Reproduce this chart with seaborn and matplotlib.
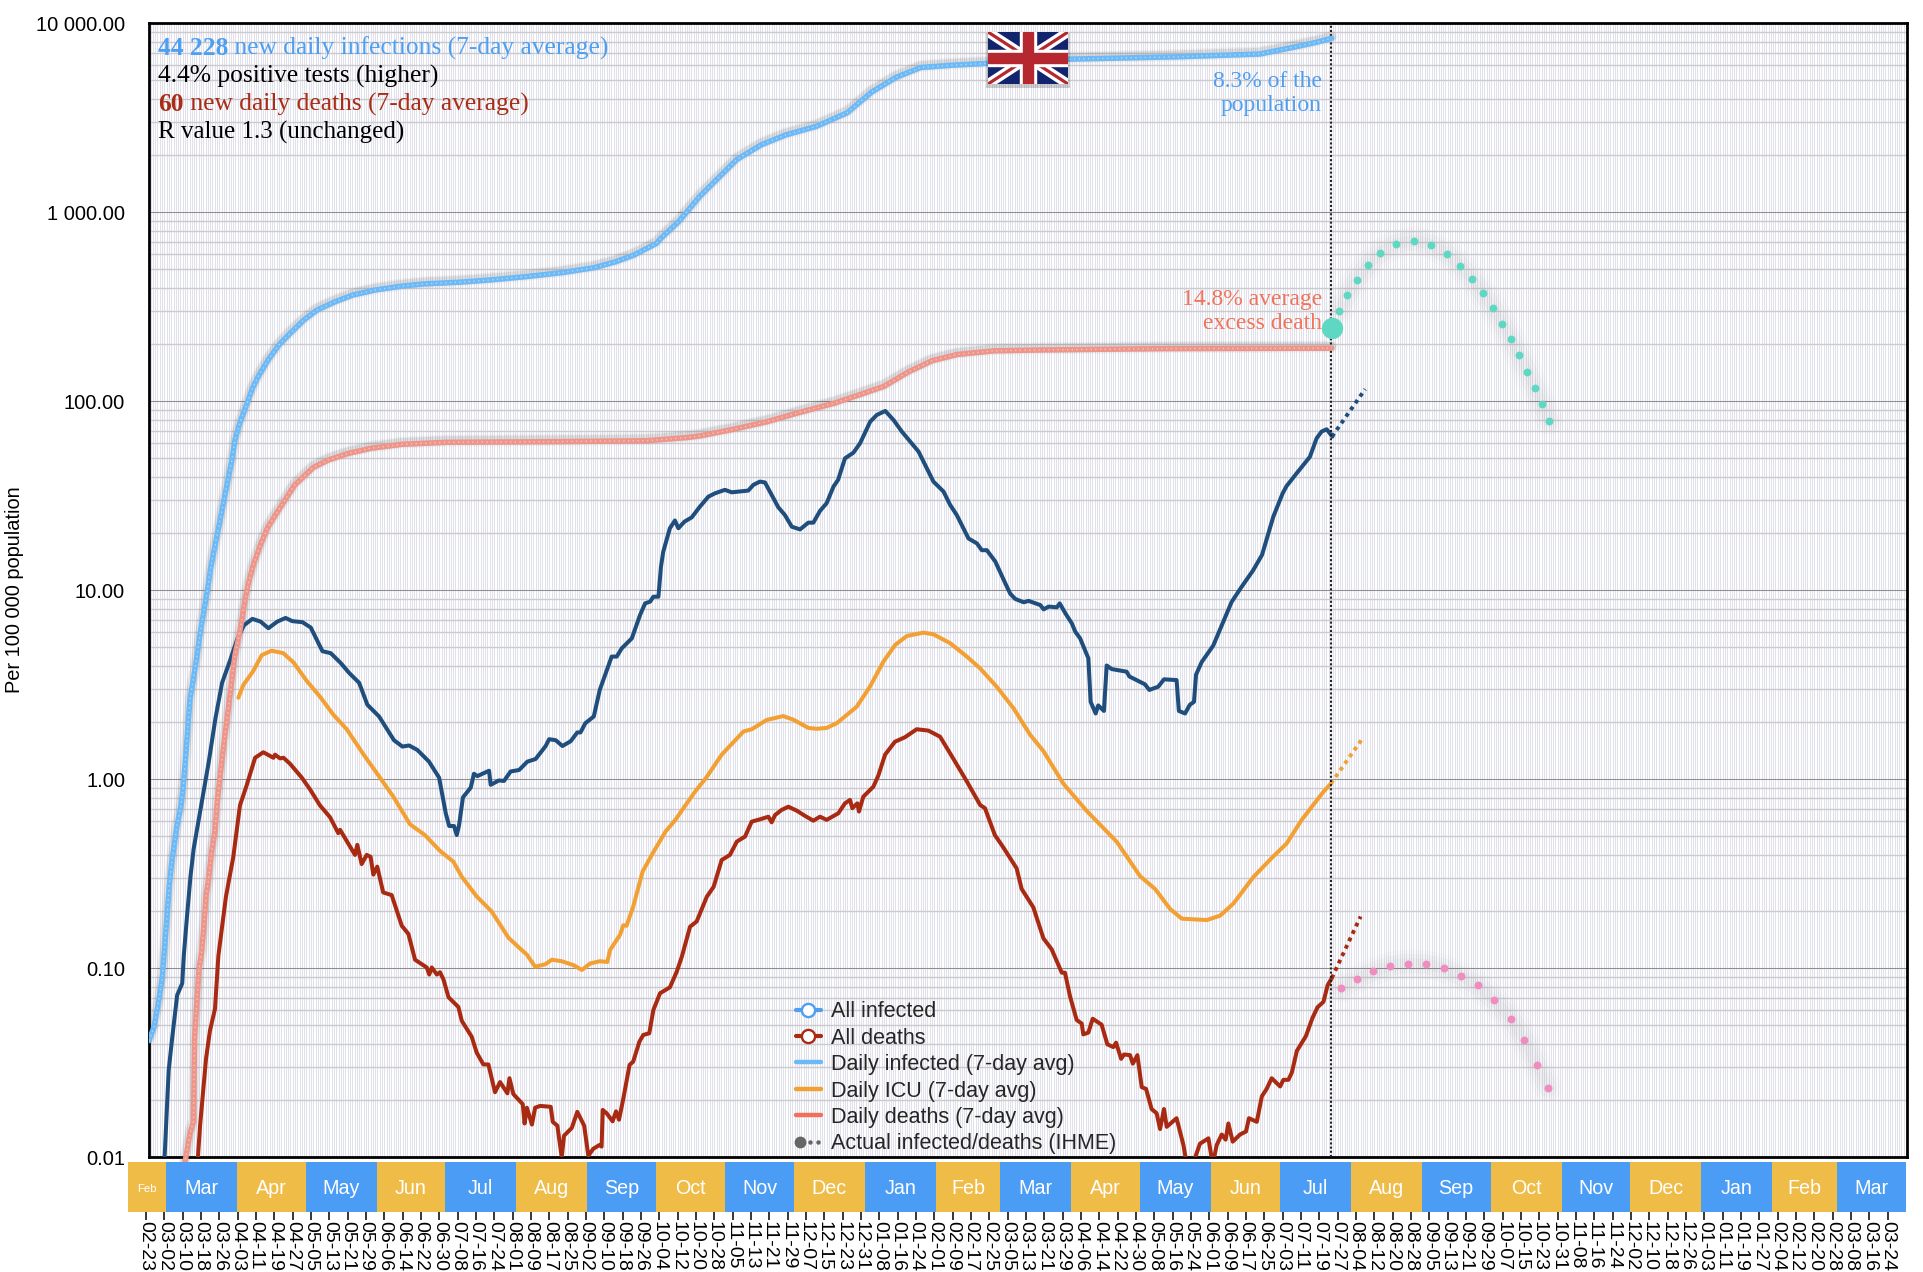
import numpy as np
import pandas as pd
import seaborn as sns
import matplotlib
matplotlib.use("Agg")
import matplotlib.pyplot as plt
import matplotlib.patheffects as pe
from matplotlib.lines import Line2D
from matplotlib.patches import Rectangle
from matplotlib.ticker import LogLocator, FixedLocator, FixedFormatter, NullFormatter
from matplotlib.legend_handler import HandlerBase

# ---------- data (x = days since 2020-02-23) ----------
START = pd.Timestamp("2020-02-23")

all_inf_day = [1.3,3.5,5.4,7.1,8.3,9.3,10.2,11.2,12.2,13.4,15.3,16.3,17.3,18.3,19.2,20.7,22.3,23.1,24.3,25.5,26.8,28.2,
               37.6,38.8,40.9,44.4,46.4,48.9,53.2,58,62.9,68.8,74.6,82.4,90.2,99.9,111.6,121.3,136.9,150.5,166,181.7,195.4,205,212.9,222.7,224.6,
               232.4,241.6,247,257.7,268.4,279,292.5,305.9,316.6,327.3,338,351.4,355,402,450,486,500.7,510,517.4]
all_inf_val = [.0414,.049,.0655,.0895,.138,.198,.278,.362,.439,.558,.728,.927,1.31,1.91,2.67,3.4,4.54,5.37,6.67,8.09,10,13.1,
               49.9,62.4,76.6,100,117,135,165,199,229,269,304,336,365,388,407,418,427,439,457,480,509,548,594,685,728,
               893,1214,1410,1900,2275,2564,2850,3360,4325,5180,5835,6000,6030,6460,6650,6880,7470,7900,8330]

all_death_day = [16.8,17.4,19.2,20.7,21.2,22.1,23.1,24.3,25.3,26.2,27.2,28.7,30.1,31.1,32.3,33.3,34.5,35.5,37,38.8,40.3,41.7,43.2,44.6,46.8,
                 50,53,57.3,64.8,72.9,79.5,88.2,98,111.6,131,179.8,218.7,236,241.7,256,271,285.4,300,311,322,332.6,343,354,370,391.5,445,517.4]
all_death_val = [.0092,.01,.0134,.0154,.0425,.0638,.0986,.1225,.171,.24,.291,.418,.532,.764,1.03,1.31,1.73,2.15,3.01,4.54,5.5,6.83,8.9,10.8,13.6,
                 17.5,21.4,26,36,44.6,48.9,53,56.4,59.2,60.7,61.2,61.9,64.3,65.6,71,78,87.5,97.5,108,120,143,164,177,185,187,190,191]

daily_inf_day = [7.6,8.2,9.9,11.4,13.6,15.8,16.5,17.9,19.4,20.8,23.8,27.4,30.3,33.2,36.9,39.8,42.7,46.4,50,53.4,57.3,60.9,63.8,68.3,71.9,77,80.6,85,88.6,93,96.6,101.7,108.2,111.9,114.8,118.4,123.5,127.9,130.8,132.3,134.4,135.6,136.6,138.3,141.7,143.1,144.6,149.7,150.4,154,156.2,159.1,162.8,166.4,170,174.4,175.9,178.8,181.7,185.3,188.2,189.6,191.7,195.4,198,
                 203.2,205.4,207.6,212,215.6,217.8,220,221.4,223.6,224.7,225.7,228.6,230.8,232.3,235,238.1,241.7,245.4,248.3,252.6,255.6,262.8,265,267.9,270.1,275.9,278.8,281.8,285.4,289,291.2,294.1,297,300,302,305,308.7,311.6,316,318.9,322.6,326.2,329.8,337.1,343.6,348,350.9,353.8,358.9,362.6,364.7,366.9,370.6,374.2,377.1,379.3,383,385.1,390.2,391.7,393.9,397.5,398.7,401.2,404,405.5,407.6,411.2,
                 412.2,414.4,415.5,418,419.2,421.4,427.9,429.1,435.9,437.8,441.7,444.2,449.7,450.7,453.4,455.5,457.3,458.2,460.7,465.7,468.7,473.7,478,483,487,490.4,491.9,496,497.7,502.1,507.9,510.8,513,515.2,517.7]
daily_inf_val = [.0085,.0105,.0289,.0425,.0721,.0832,.117,.189,.305,.429,.693,1.24,2.1,3.24,4.33,5.5,6.52,7.06,6.83,6.3,6.83,7.14,6.87,6.78,6.35,4.76,4.65,4.12,3.66,3.24,2.48,2.15,1.61,1.49,1.51,1.43,1.24,1.02,.661,.566,.566,.507,.571,.802,.904,1.07,1.04,1.11,.935,.986,.98,1.1,1.12,1.24,1.28,1.5,1.63,1.61,1.5,1.59,1.77,1.77,1.98,2.15,2.97,
                 4.46,4.46,4.93,5.57,7.41,8.53,8.71,9.25,9.25,13.3,16,21.3,23.4,21.3,23.1,24.3,27.7,31.3,32.6,34,33,33.7,36.1,37.6,37.2,27.5,25,21.7,21,22.8,22.8,26.3,28.9,35.4,38.4,49.9,53.5,60,78,84.7,88.9,79.6,69.2,54.2,37.6,33.3,28.3,25,18.8,17.7,16.3,16.3,14.2,11.4,9.6,9,8.64,8.79,8.36,7.93,8.2,8.13,8.53,7.55,6.68,6.04,5.57,4.37,
                 2.57,2.23,2.46,2.3,4,3.83,3.71,3.5,3.18,2.97,3.09,3.38,3.35,2.3,2.23,2.48,2.57,3.58,4.18,5.1,6.22,8.67,10.4,12.7,15.4,21.3,24.5,32.6,35.6,41.6,50.9,63.7,69.2,71.1,65]

icu_day = [40.3,42.5,46.8,50.5,54.8,59.9,64.3,70.1,75.9,81.7,87.6,94.8,102.1,107.9,115.2,121.7,128.3,134.1,137.8,144.3,150.8,158.2,161.8,166.2,169.8,174.2,177.1,181.4,186.5,190.2,193.8,198,201.3,202.5,206.8,208.3,209.7,212.6,216.7,221.5,226.7,231,234.5,239.6,244.7,251.2,260.7,264.3,270.8,278,282.4,289,292.6,297,301.4,310.1,315.9,321.8,326.9,332,339.2,343.6,350.9,358.2,364,371.2,378.5,385.8,391.6,400.3,410.5,423.6,433.8,440.3,446.9,452,462.9,468.7,474.5,483.2,491.9,497.7,504.3,513.7,517]
icu_val = [2.7,3.16,3.74,4.54,4.79,4.65,4.16,3.32,2.74,2.2,1.84,1.36,1.02,.81,.578,.507,.418,.367,.305,.24,.2,.145,.132,.118,.102,.105,.111,.109,.104,.098,.106,.109,.108,.125,.15,.169,.168,.212,.325,.414,.529,.61,.703,.861,1.03,1.35,1.79,1.84,2.06,2.16,2.07,1.87,1.85,1.87,1.98,2.42,3.09,4.2,5.14,5.73,5.97,5.85,5.25,4.46,3.86,3.09,2.38,1.72,1.41,.948,.68,.467,.307,.263,.206,.183,.18,.19,.22,.304,.391,.457,.61,.857,.948]

daily_death_day = [22.6,23.6,26.2,27.9,30.1,31.6,34.9,38.1,41,43.9,47.6,51.2,55.6,56.3,58.5,60,62.8,68,71.6,75.9,80.3,83.9,84.7,91.2,92.2,94.1,96.3,98,99.2,100.9,103.5,107.2,111.6,114.5,117.4,122.5,123.6,124.7,126.9,128.3,129.8,132,136.3,137.8,142.1,144.3,147.2,149.4,152.3,154.5,157.7,158.6,160.3,164.4,165.2,166.2,168.4,169.8,172,176.6,177.5,179.5,181.4,182.4,185.8,188.2,191.2,193,195.2,197.8,198.8,199.3,201,203.6,205.1,206.4,208.3,211,212.6,215.3,217,219.6,221.4,224.3,228.6,231.6,233.8,237.4,240.3,244.7,247.7,251.2,254.8,257.8,261.4,264.3,267.9,271.6,273,274.5,277.4,280.3,284,287.6,291.2,294.1,297,302.1,305,307.2,308.2,310.4,311.1,313,317.4,319.6,322.5,326.8,331.2,336.3,341.4,346.5,352.2,358.2,364,366.1,370.4,373.4,374.8,379.9,382.1,387.2,391.6,395.2,399.6,401,403.2,406.1,408.3,409,411.2,413.1,417,419.5,422.1,423.3,425.5,426.8,429.4,430.6,432.6,434.5,436.4,438.8,441,442.5,444.2,445.4,449.7,452.7,453.8,455.7,457.7,459.9,463.6,465,466.2,467.2,469.4,471.1,472.3,474.2,477.4,480,481.3,484.7,486.9,489,491.2,494.9,496.3,498.5,500,502.2,506.1,509,511.2,513.8,515.6,517.4]
daily_death_val = [.0098,.0147,.0333,.0467,.061,.117,.24,.389,.728,.927,1.3,1.39,1.3,1.35,1.29,1.3,1.21,1.02,.883,.728,.63,.519,.54,.398,.45,.356,.398,.389,.313,.345,.252,.244,.168,.152,.111,.101,.0927,.101,.0927,.0953,.0873,.0703,.0624,.0527,.0435,.0358,.031,.031,.0221,.025,.0218,.0262,.0216,.0191,.0151,.0183,.0149,.0183,.0187,.0185,.0154,.0147,.01,.013,.0143,.0174,.0147,.0102,.0111,.0116,.0114,.0178,.0171,.0155,.0175,.0158,.0205,.0308,.0321,.0409,.0444,.0453,.0602,.0738,.0793,.096,.115,.166,.177,.239,.27,.374,.398,.468,.498,.597,.614,.634,.592,.647,.689,.716,.682,.64,.604,.634,.61,.661,.746,.778,.703,.746,.675,.809,.914,1.05,1.35,1.58,1.67,1.84,1.81,1.68,1.29,.973,.731,.703,.507,.449,.423,.338,.263,.21,.144,.126,.0948,.0948,.0711,.0533,.051,.0447,.0457,.0541,.0503,.0396,.0383,.0404,.0332,.035,.0347,.0313,.0347,.0235,.023,.018,.0171,.0141,.018,.0145,.0161,.0116,.0097,.0085,.0099,.0118,.0126,.0099,.0101,.0116,.0132,.0124,.0151,.0121,.0132,.0137,.0161,.0154,.021,.023,.0262,.0237,.0257,.0257,.0281,.0366,.0437,.0546,.0622,.0665,.0813,.0887]

proj_day = [517.5, 532]
proj_inf = [65, 116]
proj_icu_day = [517, 530.9]
proj_icu = [.948, 1.65]
proj_death_day = [517.4, 530]
proj_death = [.0887, .188]

ihme_inf_day = [520.7,524.1,528.3,533.1,538.6,545.5,553.2,560.8,567.5,573.5,578.7,583.5,587.8,591.9,595.7,599.3,602.7,606.1,609.2,612.4]
ihme_inf_val = [301,365,440,526,612,682,708,675,604,522,442,373,310,258,213,175,143,118,96.4,78.7]
ihme_now_day, ihme_now_val = 517.4, 243
ihme_death_day = [521.5,528.3,535.5,543,550.7,558.7,566.2,573.7,581.2,588.1,595.6,601.5,606.9,611.7]
ihme_death_val = [.0784,.0875,.0962,.103,.106,.105,.1,.0914,.0811,.0678,.0542,.042,.0307,.0234]

today_day = 517.1
month_names = ["Feb","Mar","Apr","May","Jun","Jul","Aug","Sep","Oct","Nov","Dec","Jan"]*2 + ["Feb","Mar"]
y_ticks = [0.01,0.1,1,10,100,1000,10000]
y_labels = ["0.01","0.10","1.00","10.00","100.00","1 000.00","10 000.00"]
legend_labels = ["All infected","All deaths","Daily infected (7-day avg)","Daily ICU (7-day avg)","Daily deaths (7-day avg)","Actual infected/deaths (IHME)"]

# ---------- style ----------
C_INF, C_DEATH = "#6cb9f8", "#ef9489"
C_NAVY, C_ICU, C_RED = "#1f4e7d", "#f2a033", "#a82a12"
C_TEXT_BLUE, C_TEXT_RED, C_TEXT_SALMON = "#4f9ff0", "#a92c16", "#f0745c"
C_TEAL, C_PINK = "#5fd8c3", "#f08cc0"
C_Y, C_B = "#f0bc48", "#4a9cf5"
SERIF = "Liberation Serif"

sns.set_theme(style="white")
plt.rcParams["font.family"] = ["Liberation Sans", "DejaVu Sans"]

W, H = 1924, 1272
fig = plt.figure(figsize=(W/100, H/100), dpi=100, facecolor="white")
def box(x0, y0, x1, y1):
    return [x0/W, 1-y1/H, (x1-x0)/W, (y1-y0)/H]

PX_DAY = 2.2917
X0 = 146.0
def day_at(px):
    return (px-X0)/PX_DAY

ax = fig.add_axes(box(148.7, 23.3, 1906.8, 1157.3))
ax.set_yscale("log")
ax.set_xlim(day_at(148.7), day_at(1906.8))
ax.set_ylim(0.01, 10000)

# grid
ax.set_axisbelow(True)
ax.xaxis.set_major_locator(FixedLocator([]))
ax.xaxis.set_minor_locator(FixedLocator(np.arange(2, 769)))
ax.xaxis.set_minor_formatter(NullFormatter())
ax.yaxis.set_major_locator(FixedLocator(y_ticks))
ax.yaxis.set_major_formatter(FixedFormatter(y_labels))
ax.yaxis.set_minor_locator(LogLocator(base=10, subs=np.arange(2, 10), numticks=20))
ax.yaxis.set_minor_formatter(NullFormatter())
ax.grid(True, which="minor", axis="x", color="#e1e1ec", lw=0.75)
ax.grid(True, which="minor", axis="y", color="#cbcbcf", lw=1.0)
ax.grid(True, which="major", axis="y", color="#8e8e8e", lw=0.75)
ax.tick_params(axis="both", which="both", length=0)
ax.tick_params(axis="y", which="major", labelsize=14.5, pad=17, labelcolor="black")
ax.set_xlabel(""); ax.set_ylabel("")
for s in ax.spines.values():
    s.set_visible(True); s.set_color("black"); s.set_linewidth(2.0)

def line(x, y, **kw):
    sns.lineplot(x=x, y=y, ax=ax, estimator=None, errorbar=None, sort=False, legend=False, **kw)

def thick(x, y, color, clip=True):
    for w, a in [(8.5, .05), (6.5, .10)]:
        line(x, y, color="#333333", lw=w, alpha=a, zorder=3, clip_on=clip,
             path_effects=[pe.Stroke(linewidth=w, foreground="#333333", alpha=a, offset=(0, 1.2))])
    line(x, y, color=color, lw=3.9, zorder=5, clip_on=clip, solid_capstyle="round")
    line(x, y, color="white", lw=1.0, alpha=.45, zorder=6, clip_on=clip, dashes=(1.0, 2.4), dash_capstyle="butt")

line(daily_inf_day, daily_inf_val, color=C_NAVY, lw=2.9, zorder=4)
line(icu_day, icu_val, color=C_ICU, lw=2.9, zorder=4)
line(daily_death_day, daily_death_val, color=C_RED, lw=2.9, zorder=4)
thick(all_inf_day, all_inf_val, C_INF)
thick(all_death_day, all_death_val, C_DEATH, clip=False)

for xs, ys, c in [(proj_day, proj_inf, C_NAVY), (proj_icu_day, proj_icu, C_ICU), (proj_death_day, proj_death, C_RED)]:
    line(xs, ys, color=c, lw=2.8, zorder=4, dashes=(1.0, 1.1), dash_capstyle="butt")

# projection dots with soft grey halo
for xs, ys, c in [(ihme_inf_day, ihme_inf_val, C_TEAL), (ihme_death_day, ihme_death_val, C_PINK)]:
    for lw_, a in [(20, .02), (14, .03), (8, .03)]:
        line(xs, ys, color="#555555", lw=lw_, alpha=a, zorder=3)
    sns.scatterplot(x=xs, y=ys, ax=ax, color=c, s=32, linewidth=0, zorder=7, legend=False)
sns.scatterplot(x=[ihme_now_day], y=[ihme_now_val], ax=ax, color=C_TEAL, s=235, linewidth=0, zorder=7, legend=False)

ax.axvline(today_day, color="#222222", lw=1.5, ls=(0, (1, 1)), zorder=4)

# ---------- headline text ----------
def headline(px, py, bold, rest, color):
    t = ax.text(px/W, 1-py/H, bold, transform=fig.transFigure, family=SERIF, fontsize=18.4, weight="bold", color=color, va="center", ha="left", zorder=9)
    ax.annotate(rest, xy=(1, 0), xycoords=t, xytext=(0, 0), textcoords="offset points", family=SERIF, fontsize=18.4,
                color=color, va="bottom", ha="left", zorder=9)

headline(158, 48.5, "44 228", " new daily infections (7-day average)", C_TEXT_BLUE)
ax.text(158/W, 1-76.5/H, "4.4% positive tests (higher)", transform=fig.transFigure, family=SERIF, fontsize=18.4, color="black", va="center", zorder=9)
headline(158, 104.5, "60", " new daily deaths (7-day average)", C_TEXT_RED)
ax.text(158/W, 1-132.5/H, "R value 1.3 (unchanged)", transform=fig.transFigure, family=SERIF, fontsize=18, color="black", va="center", zorder=9)

for py, s, c in [(81.5, "8.3% of the", C_TEXT_BLUE), (105.5, "population", C_TEXT_BLUE),
                 (299.5, "14.8% average", C_TEXT_SALMON), (323.5, "excess death", C_TEXT_SALMON)]:
    ax.text(1322/W, 1-py/H, s, transform=fig.transFigure, family=SERIF, fontsize=17, color=c, ha="right", va="center", zorder=9)

fig.text(14.5/W, 1-590/H, "Per 100 000 population", rotation=90, fontsize=14.4, ha="center", va="center", color="black")

# ---------- legend ----------
class DotsHandler(HandlerBase):
    def create_artists(self, legend, orig, xd, yd, width, height, fontsize, trans):
        y = height/2 - yd
        big = Line2D([width*.18], [y], marker="o", ms=7.5, color="#666666", ls="", transform=trans)
        d1 = Line2D([width*.55], [y], marker="o", ms=2.2, color="#666666", ls="", transform=trans)
        d2 = Line2D([width*.88], [y], marker="o", ms=2.2, color="#666666", ls="", transform=trans)
        return [big, d1, d2]

proxy_dots = Line2D([], [], color="#666666")
handles = [
    Line2D([], [], color=C_TEXT_BLUE, lw=3, marker="o", ms=9.5, mfc="white", mec=C_TEXT_BLUE, mew=1.7),
    Line2D([], [], color=C_RED, lw=3, marker="o", ms=9.5, mfc="white", mec=C_RED, mew=1.7),
    Line2D([], [], color=C_INF, lw=3.2),
    Line2D([], [], color=C_ICU, lw=3.2),
    Line2D([], [], color="#f0705a", lw=3.2),
    proxy_dots,
]
leg = ax.legend(handles, legend_labels, loc="lower left", bbox_to_anchor=(796/W, 1-1154.5/H), bbox_transform=fig.transFigure,
                frameon=False, fontsize=15.5, handlelength=1.15, handletextpad=.46, labelspacing=.255, numpoints=1,
                borderpad=0, borderaxespad=0, handler_map={proxy_dots: DotsHandler()})
leg.set_zorder(9)

# ---------- UK flag ----------
ax.add_patch(Rectangle((986/W, 1-88/H), 84/W, 55/H, transform=fig.transFigure, color="#000000", alpha=.18, lw=0, zorder=7))
fl = fig.add_axes(box(988, 32, 1068, 84), zorder=8)
fl.set_xlim(0, 60); fl.set_ylim(0, 39); fl.axis("off")
navy, red = "#13246e", "#b5282f"
fl.add_patch(Rectangle((0, 0), 60, 39, color=navy))
for a, b in [((0, 0), (60, 39)), ((0, 39), (60, 0))]:
    fl.plot([a[0], b[0]], [a[1], b[1]], color="white", lw=7, solid_capstyle="butt")
    fl.plot([a[0], b[0]], [a[1], b[1]], color=red, lw=2.3, solid_capstyle="butt")
fl.add_patch(Rectangle((24, 0), 12, 39, color="white", zorder=3))
fl.add_patch(Rectangle((0, 13.5), 60, 12, color="white", zorder=3))
fl.add_patch(Rectangle((26.5, 0), 7, 39, color=red, zorder=4))
fl.add_patch(Rectangle((0, 16), 60, 7, color=red, zorder=4))

# ---------- month band + date ticks ----------
bx = fig.add_axes(box(128, 1162, 1906.2, 1212))
bx.set_xlim(day_at(128), day_at(1906.2)); bx.set_ylim(0, 1)
starts = pd.date_range("2020-03-01", periods=len(month_names)-1, freq="MS")
edges = [day_at(128)] + [(d-START).days + (1.6 if d < pd.Timestamp("2020-11-01") else 0.7) for d in starts] + [day_at(1906.2)]
for i, name in enumerate(month_names):
    bx.axvspan(edges[i], edges[i+1], color=C_Y if i % 2 == 0 else C_B, lw=0)
    bx.text((edges[i]+edges[i+1])/2, .47, name, color="white", ha="center", va="center",
            fontsize=8.2 if i == 0 else 14.2)
tick_dates = pd.date_range(START, periods=96, freq="8D")
bx.set_yticks([])
bx.set_xticks([(d-START).days for d in tick_dates])
bx.set_xticklabels(tick_dates.strftime("%m-%d"), rotation=270, ha="center", va="top", fontsize=14)
bx.tick_params(axis="x", length=5.5, width=1.1, pad=1, color="black", labelcolor="black", direction="out", bottom=True)
for s in bx.spines.values():
    s.set_visible(False)

fig.savefig("out.png", dpi=100, facecolor="white")
